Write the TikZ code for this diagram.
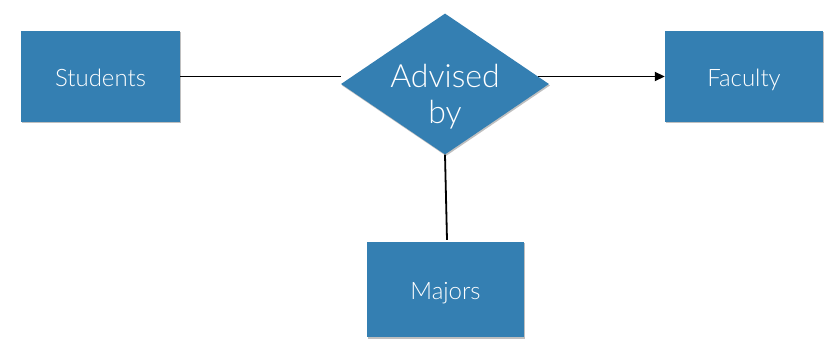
\documentclass[tikz,border=0pt]{standalone}
\usepackage{fontspec}
\setmainfont{Lato}[UprightFont=* Light]
\usetikzlibrary{shapes.geometric,arrows.meta,calc,shadows}
\definecolor{erblue}{RGB}{52,127,178}
\tikzset{
  shade1/.style={drop shadow={shadow xshift=1pt,shadow yshift=-1.5pt,opacity=0.25,fill=black}},
  entity/.style={rectangle,fill=erblue,text=white,inner sep=0pt,shade1,
    font=\fontsize{24}{28}\selectfont,text height=20pt,text depth=0pt},
  relation/.style={diamond,fill=erblue,inner sep=0pt,shade1},
  conn/.style={line width=1.8pt,black},
}
\begin{document}
\begin{tikzpicture}[x=1pt,y=-1pt]
\useasboundingbox (0,0) rectangle (839,350);
\node[entity,minimum width=159pt,minimum height=91pt] (stu) at (100.5,76.5) {Students};
\node[entity,minimum width=158pt,minimum height=91pt] (fac) at (744,76.5) {Faculty};
\node[entity,minimum width=157pt,minimum height=95pt] (maj) at (445.5,289.5) {Majors};
\node[relation,minimum width=208pt,minimum height=141pt] (rel) at (445,84) {};
\node[text=white,align=center,inner sep=0pt,font=\fontsize{32}{36}\selectfont] (reltext) at (445,97) {Advised\\by};
\draw[conn] (stu.east) -- (rel.west |- stu.east);
\draw[conn,-{Triangle[length=10pt,width=9pt]}] ($(rel.east |- fac.west)+(-11,0)$) coordinate (arrstart) -- (fac.west);
\draw[conn] (rel.south) -- ($(maj.north)+(1.5,-2)$) coordinate (majtop);
\end{tikzpicture}
\end{document}
